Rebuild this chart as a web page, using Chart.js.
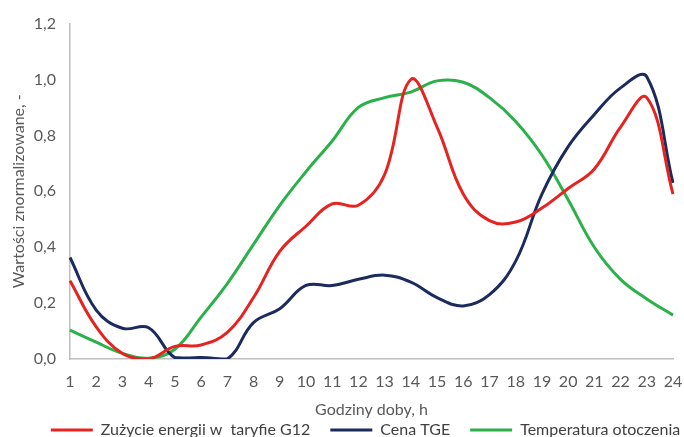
<!DOCTYPE html>
<html>
<head>
<meta charset="utf-8">
<script src="https://cdn.jsdelivr.net/npm/chart.js@4.4.1/dist/chart.umd.min.js"></script>
<style>
  html, body { margin: 0; padding: 0; background: #fff; overflow: hidden; }
  #wrap { width: 684px; height: 448px; }
</style>
</head>
<body>
<div id="wrap"><canvas id="chart"></canvas></div>
<script>
var hours = ['1','2','3','4','5','6','7','8','9','10','11','12','13','14','15','16','17','18','19','20','21','22','23','24'];

var zuzycie = [0.28, 0.115, 0.02, 0.0, 0.045, 0.05, 0.095, 0.22, 0.385, 0.475, 0.555, 0.55, 0.66, 1.0, 0.83, 0.59, 0.495, 0.49, 0.54, 0.61, 0.68, 0.83, 0.935, 0.59];
var cenaTGE = [0.363, 0.175, 0.11, 0.112, 0.005, 0.005, 0.0, 0.13, 0.18, 0.263, 0.263, 0.285, 0.30, 0.275, 0.22, 0.19, 0.23, 0.35, 0.59, 0.76, 0.875, 0.97, 1.01, 0.63];
var temperatura = [0.103, 0.06, 0.02, 0.003, 0.035, 0.15, 0.27, 0.41, 0.55, 0.67, 0.78, 0.90, 0.935, 0.955, 0.995, 0.99, 0.935, 0.85, 0.73, 0.57, 0.40, 0.285, 0.215, 0.157];

var labelColor = '#595959';
var axisColor = '#bfbfbf';
var fontFamily = 'Lato, sans-serif';

// the legend in the original sits a bit right of the canvas centre
var legendShift = {
    id: 'legendShift',
    afterLayout: function (chart) {
        chart.legend.left += 24;
        chart.legend.right += 24;
    }
};

var ctx = document.getElementById('chart').getContext('2d');

var chart = new Chart(ctx, {
    type: 'line',
    data: {
        labels: hours,
        datasets: [{
            label: 'Zużycie energii w  taryfie G12',
            data: zuzycie,
            borderColor: '#e52421',
            backgroundColor: '#e52421',
            borderWidth: 3,
            pointRadius: 0,
            pointStyle: 'line',
            tension: 0.4
        }, {
            label: 'Cena TGE',
            data: cenaTGE,
            borderColor: '#1c2b5e',
            backgroundColor: '#1c2b5e',
            borderWidth: 3,
            pointRadius: 0,
            pointStyle: 'line',
            tension: 0.4
        }, {
            label: 'Temperatura otoczenia',
            data: temperatura,
            borderColor: '#2bb04a',
            backgroundColor: '#2bb04a',
            borderWidth: 3,
            pointRadius: 0,
            pointStyle: 'line',
            tension: 0.4
        }]
    },
    options: {
        responsive: true,
        maintainAspectRatio: false,
        animation: false,
        layout: { padding: { top: 22, right: 1, left: 0, bottom: 0 } },
        plugins: {
            tooltip: { enabled: false },
            legend: {
                position: 'bottom',
                labels: {
                    color: '#404040',
                    font: { family: fontFamily, size: 16 },
                    usePointStyle: true,
                    pointStyleWidth: 42,
                    boxHeight: 14,
                    padding: 20
                }
            }
        },
        scales: {
            x: {
                offset: false,
                grid: { display: false, drawTicks: false },
                border: { display: true, color: axisColor, width: 1.5 },
                ticks: {
                    color: labelColor,
                    font: { family: fontFamily, size: 16 },
                    padding: 13,
                    maxRotation: 0,
                    autoSkip: false
                },
                title: {
                    display: true,
                    text: 'Godziny doby, h',
                    color: labelColor,
                    font: { family: fontFamily, size: 16 },
                    padding: { top: 0, bottom: -17 }
                },
                afterFit: function (scale) {
                    scale.height = 43;
                    scale.paddingRight = 11;
                    scale.paddingLeft = 0;
                }
            },
            y: {
                min: 0,
                max: 1.2,
                grid: { display: false, drawTicks: false },
                border: { display: true, color: axisColor, width: 1.5 },
                ticks: {
                    stepSize: 0.2,
                    color: labelColor,
                    font: { family: fontFamily, size: 16 },
                    padding: 14,
                    callback: function (v) { return v.toFixed(1).replace('.', ','); }
                },
                title: {
                    display: true,
                    text: 'Wartości znormalizowane, -',
                    color: labelColor,
                    font: { family: fontFamily, size: 16 },
                    padding: { top: 9, bottom: 0 }
                },
                afterFit: function (scale) { scale.width = 70; }
            }
        }
    },
    plugins: [legendShift]
});
</script>
</body>
</html>
